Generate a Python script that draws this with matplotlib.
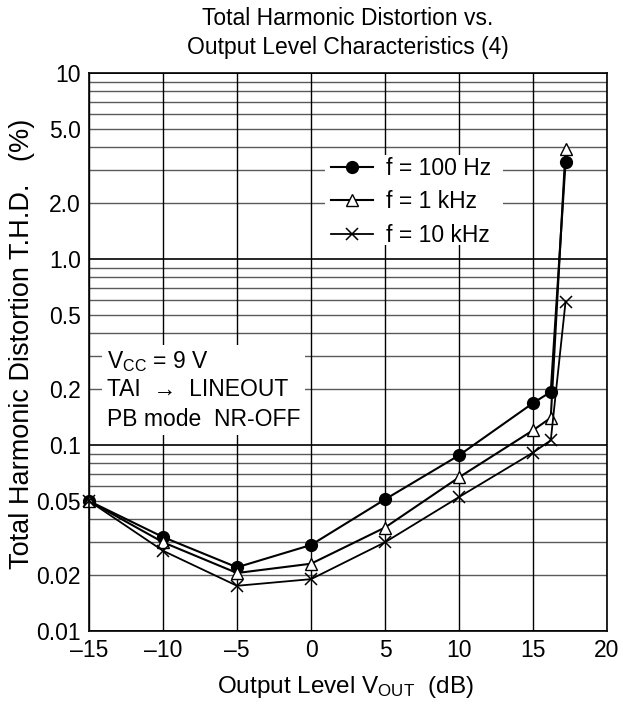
import matplotlib
matplotlib.use("Agg")
import matplotlib.pyplot as plt
from matplotlib.patches import Rectangle

plt.rcParams['font.family'] = ['Liberation Sans', 'DejaVu Sans']
plt.rcParams['mathtext.fontset'] = 'custom'
plt.rcParams['mathtext.rm'] = 'Liberation Sans'
plt.rcParams['mathtext.it'] = 'Liberation Sans:italic'

# data
x_levels = [-15, -10, -5, 0, 5, 10, 15, 16.2, 17.2]
thd_100hz = [0.050, 0.032, 0.022, 0.029, 0.051, 0.088, 0.168, 0.193, 3.33]
thd_1khz = [0.050, 0.030, 0.0205, 0.023, 0.036, 0.067, 0.120, 0.140, 3.9]
thd_10khz = [0.050, 0.027, 0.0175, 0.019, 0.030, 0.0525, 0.091, 0.106, 0.59]

x_ticks = [-15, -10, -5, 0, 5, 10, 15, 20]
x_ticklabels = ['–15', '–10', '–5', '0', '5', '10', '15', '20']
y_ticks = [10, 5, 2, 1, 0.5, 0.2, 0.1, 0.05, 0.02, 0.01]
y_ticklabels = ['10', '5.0', '2.0', '1.0', '0.5', '0.2', '0.1', '0.05', '0.02', '0.01']

FS = 16.5
W, H = 623, 704
fig = plt.figure(figsize=(W / 100, H / 100), dpi=100)
ax = fig.add_axes([89 / W, 1 - 631 / H, (607 - 89) / W, (631 - 73) / H])
ax.set_yscale('log')
ax.set_xlim(-15, 20)
ax.set_ylim(0.01, 10)

# grid
for d in [0.01, 0.1, 1]:
    for m in range(2, 10):
        ax.axhline(d * m, color='#5a5a5a', lw=1.0, zorder=1)
for v in [0.01, 0.1, 1, 10]:
    ax.axhline(v, color='black', lw=1.2, zorder=1)
for xv in x_ticks:
    ax.axvline(xv, color='black', lw=1.0, zorder=1)

# white boxes
ax.add_patch(Rectangle((0.456, 0.692), 0.343, 0.161, transform=ax.transAxes,
                       facecolor='white', edgecolor='none', zorder=2))
ax.add_patch(Rectangle((0.025, 0.351), 0.392, 0.162, transform=ax.transAxes,
                       facecolor='white', edgecolor='none', zorder=2))

l1, = ax.plot(x_levels, thd_100hz, color='black', lw=1.5, marker='o', ms=8.5,
              mfc='black', mec='black', zorder=3, label='f = 100 Hz', clip_on=False)
l2, = ax.plot(x_levels, thd_1khz, color='black', lw=1.5, marker='^', ms=8.5,
              mfc='white', mec='black', mew=1.0, zorder=4, label='f = 1 kHz',
              clip_on=False)
l3, = ax.plot(x_levels, thd_10khz, color='black', lw=1.3, marker='x', ms=8,
              mec='black', mew=1.1, zorder=5, label='f = 10 kHz', clip_on=False)

leg = ax.legend(handles=[l1, l2, l3], loc='upper left',
                bbox_to_anchor=((331 - 89) / 518, (631 - 157) / 558),
                frameon=False, fontsize=FS, borderpad=0, borderaxespad=0,
                handlelength=1.85, handletextpad=0.55, labelspacing=0.45)
leg.set_zorder(6)

def ax_y(py):
    return (631 - py) / 558

tx = (107 - 89) / 518
ax.text(tx, ax_y(362), r'V$_{\mathrm{CC}}$ = 9 V', transform=ax.transAxes,
        fontsize=FS, va='center', ha='left', zorder=6)
ax.text(tx, ax_y(390), 'TAI  →  LINEOUT', transform=ax.transAxes,
        fontsize=FS, va='center', ha='left', zorder=6)
ax.text(tx, ax_y(419), 'PB mode  NR-OFF', transform=ax.transAxes,
        fontsize=FS, va='center', ha='left', zorder=6)

ax.set_xticks(x_ticks)
ax.set_xticklabels(x_ticklabels, fontsize=FS)
ax.set_yticks(y_ticks)
ax.set_yticklabels(y_ticklabels, fontsize=FS)
ax.yaxis.set_minor_locator(matplotlib.ticker.NullLocator())
ax.tick_params(length=0, pad=6)

for s in ax.spines.values():
    s.set_linewidth(1.2)
    s.set_zorder(7)

fig.text(345 / W, 1 - 687 / H, r'Output Level V$_{\mathrm{OUT}}$  (dB)',
         fontsize=17.5, ha='center', va='center')
fig.text(22 / W, 1 - 344 / H, 'Total Harmonic Distortion T.H.D.   (%)',
         fontsize=19.5, ha='center', va='center', rotation=90)
fig.text(348 / W, 1 - 33 / H,
         'Total Harmonic Distortion vs.\nOutput Level Characteristics (4)',
         fontsize=FS, ha='center', va='center', linespacing=1.3)

fig.savefig('out.png', dpi=100)
